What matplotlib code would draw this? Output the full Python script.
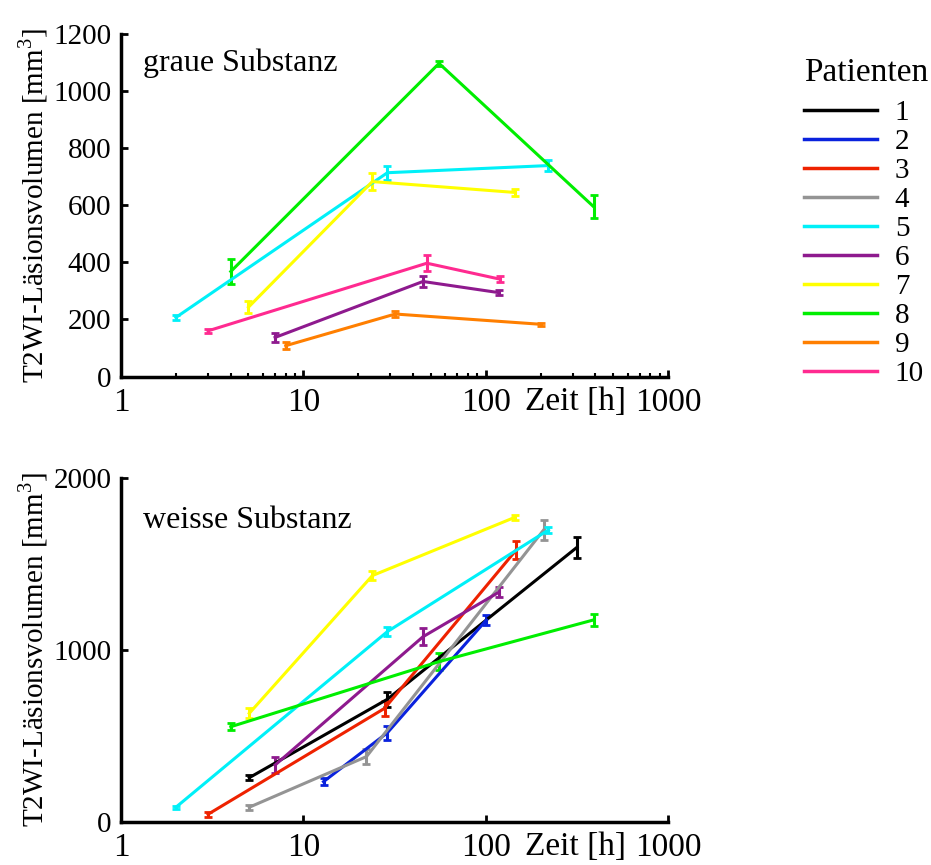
import matplotlib
matplotlib.use("Agg")

import matplotlib.pyplot as plt
from matplotlib.lines import Line2D
from matplotlib.ticker import LogLocator, NullFormatter, FixedLocator

plt.rcParams['font.family'] = ['Liberation Serif', 'DejaVu Serif']
plt.rcParams['mathtext.fontset'] = 'custom'
plt.rcParams['mathtext.rm'] = 'Liberation Serif'

# Farben je Patient
farben = {
    1: "#000000", 2: "#0a22dd", 3: "#ee2200", 4: "#949494", 5: "#00f0f8",
    6: "#8e1a8e", 7: "#ffff00", 8: "#00ee00", 9: "#ff7f00", 10: "#ff2a90",
}

# graue Substanz: Zeit [h], Volumen [mm^3], Fehler
grau_zeit = {
    5: [2.0, 28.9, 219],
    8: [4.0, 55.5, 391],
    7: [5.0, 23.9, 144],
    10: [3.0, 47.6, 120],
    6: [7.0, 45.3, 118],
    9: [8.0, 31.9, 201],
}
grau_vol = {
    5: [207, 714, 739],
    8: [368, 1097, 595],
    7: [243, 683, 645],
    10: [160, 397, 341],
    6: [137, 333, 294],
    9: [108, 219, 183],
}
grau_err = {
    5: [10, 25, 18],
    8: [45, 10, 40],
    7: [20, 30, 12],
    10: [8, 28, 10],
    6: [15, 20, 8],
    9: [12, 10, 6],
}

# weisse Substanz
weiss_zeit = {
    1: [5.05, 28.9, 317],
    2: [12.9, 28.9, 101],
    3: [3.0, 27.9, 147],
    4: [5.05, 22.2, 208],
    5: [2.0, 28.9, 221],
    6: [7.0, 45.3, 118],
    7: [5.05, 23.9, 145],
    8: [4.0, 55.5, 391],
}
weiss_vol = {
    1: [256, 713, 1598],
    2: [233, 518, 1175],
    3: [43, 660, 1582],
    4: [84, 379, 1699],
    5: [84, 1107, 1699],
    6: [330, 1077, 1336],
    7: [631, 1433, 1773],
    8: [553, 932, 1175],
}
weiss_err = {
    1: [15, 45, 60],
    2: [20, 40, 30],
    3: [15, 45, 50],
    4: [15, 45, 60],
    5: [10, 25, 15],
    6: [45, 50, 30],
    7: [30, 25, 15],
    8: [20, 50, 35],
}

fig = plt.figure(figsize=(9.31, 8.65), dpi=100)
ax1 = fig.add_axes([0.130, 0.5647, 0.5875, 0.396])
ax2 = fig.add_axes([0.130, 0.0501, 0.5875, 0.397])


def zeichnen(ax, zeit, vol, err, ymax, yticks, titel, minor):
    for p in zeit:
        ax.errorbar(zeit[p], vol[p], yerr=err[p], color=farben[p], lw=2.2,
                    elinewidth=2.2, capsize=3, capthick=2)
    ax.set_xscale('log')
    ax.set_xlim(1, 1000)
    ax.set_ylim(0, ymax)
    ax.spines['top'].set_visible(False)
    ax.spines['right'].set_visible(False)
    for s in ('left', 'bottom'):
        ax.spines[s].set_linewidth(2.5)
    ax.xaxis.set_major_locator(FixedLocator([1, 10, 100, 1000]))
    ax.set_xticklabels(['1', '10', '100', '1000'])
    if minor:
        ax.xaxis.set_minor_locator(LogLocator(base=10, subs=range(2, 10)))
    else:
        ax.xaxis.set_minor_locator(FixedLocator([]))
    ax.xaxis.set_minor_formatter(NullFormatter())
    ax.set_yticks(yticks)
    ax.tick_params(axis='both', which='major', direction='in', length=5, width=2)
    ax.tick_params(axis='x', which='major', labelsize=24, pad=8)
    ax.tick_params(axis='y', which='major', labelsize=21, pad=7)
    ax.tick_params(axis='x', which='minor', direction='in', length=3, width=1.5)
    ax.set_ylabel('T2WI-Läsionsvolumen [mm$^3$]', fontsize=21, labelpad=2)
    ax.text(0.83, -0.03, 'Zeit [h]', transform=ax.transAxes, fontsize=24,
            ha='center', va='top')
    ax.text(0.04, 0.915 if minor else 0.878, titel, transform=ax.transAxes,
            fontsize=23, va='center')


zeichnen(ax1, grau_zeit, grau_vol, grau_err, 1200, range(0, 1201, 200),
         'graue Substanz', True)
zeichnen(ax2, weiss_zeit, weiss_vol, weiss_err, 2000, [0, 1000, 2000],
         'weisse Substanz', False)

handles = [Line2D([], [], color=farben[p], lw=2.5) for p in range(1, 11)]
labels = [str(p) for p in range(1, 11)]
leg = fig.legend(handles, labels, loc='upper left', bbox_to_anchor=(0.864, 0.933),
                 frameon=False, fontsize=21, title='Patienten', title_fontsize=24,
                 handlelength=2.5, handletextpad=0.6, labelspacing=0.09,
                 borderaxespad=0, borderpad=0)
leg._legend_box.align = 'left'
leg._legend_box.sep = 8

fig.savefig('out.png', dpi=100)
